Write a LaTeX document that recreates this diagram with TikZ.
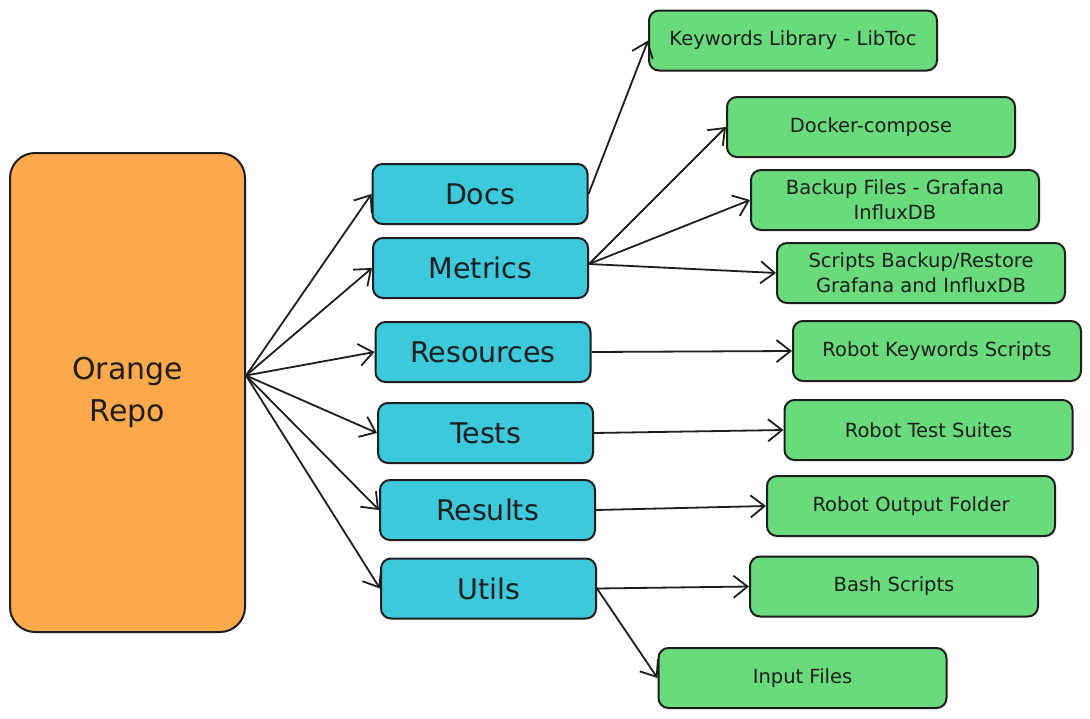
\documentclass[tikz,border=0pt]{standalone}
\usepackage{fontspec}
\setmainfont{DejaVu Sans}
\usetikzlibrary{arrows.meta}
\definecolor{orng}{HTML}{FFA94D}
\definecolor{cyanb}{HTML}{3BC9DB}
\definecolor{grn}{HTML}{69DB7C}
\definecolor{ink}{HTML}{1E1E1E}
\tikzset{
  box/.style={draw=ink, line width=2pt, rounded corners=10pt, align=center, text=ink, inner sep=0pt},
  bluebox/.style={box, fill=cyanb, minimum width=215pt, minimum height=60pt, font=\fontsize{28.5}{32}\selectfont},
  greenbox/.style={box, fill=grn, minimum width=288pt, minimum height=60pt, font=\fontsize{19.5}{25}\selectfont},
  orangebox/.style={box, fill=orng, rounded corners=25pt, minimum width=235pt, minimum height=479pt, font=\fontsize{30}{42}\selectfont},
  conn/.style={draw=ink, line width=1.8pt, -{Straight Barb[length=14pt,width=22pt,line width=1.8pt]}}
}
\begin{document}
\begin{tikzpicture}[x=1pt,y=-1pt]
\useasboundingbox[fill=white] (0,0) rectangle (1090,718);
\node[orangebox] (orange) at (127.5,392.5) {Orange\\Repo};

\node[bluebox] (docs) at (480,194) {Docs};
\node[bluebox] (metrics) at (480.5,268) {Metrics};
\node[bluebox] (resources) at (483,352) {Resources};
\node[bluebox] (tests) at (485.5,433) {Tests};
\node[bluebox] (results) at (487.5,510) {Results};
\node[bluebox] (utils) at (488.5,588.5) {Utils};

\node[greenbox] (kw) at (793,40.5) {Keywords Library - LibToc};
\node[greenbox] (docker) at (871,127) {Docker-compose};
\node[greenbox] (backup) at (895,200) {Backup Files - Grafana\\InfluxDB};
\node[greenbox] (scripts) at (921,273) {Scripts Backup/Restore\\Grafana and InfluxDB};
\node[greenbox] (rks) at (937,351) {Robot Keywords Scripts};
\node[greenbox] (rts) at (928.5,430) {Robot Test Suites};
\node[greenbox] (rof) at (911,506) {Robot Output Folder};
\node[greenbox] (bash) at (894,586.5) {Bash Scripts};
\node[greenbox] (input) at (802.5,678) {Input Files};

\coordinate (o) at ([yshift=17pt]orange.east);
\foreach \t in {docs,metrics,resources,tests,results,utils}
  \draw[conn] (o) -- (\t.west);

\draw[conn] (docs.east) -- (kw.west);
\draw[conn] ([yshift=4pt]metrics.east) -- (docker.west);
\draw[conn] ([yshift=4pt]metrics.east) -- (backup.west);
\draw[conn] ([yshift=4pt]metrics.east) -- (scripts.west);
\draw[conn] (resources.east) -- (rks.west);
\draw[conn] (tests.east) -- (rts.west);
\draw[conn] (results.east) -- (rof.west);
\draw[conn] (utils.east) -- (bash.west);
\draw[conn] (utils.east) -- (input.west);
\end{tikzpicture}
\end{document}
